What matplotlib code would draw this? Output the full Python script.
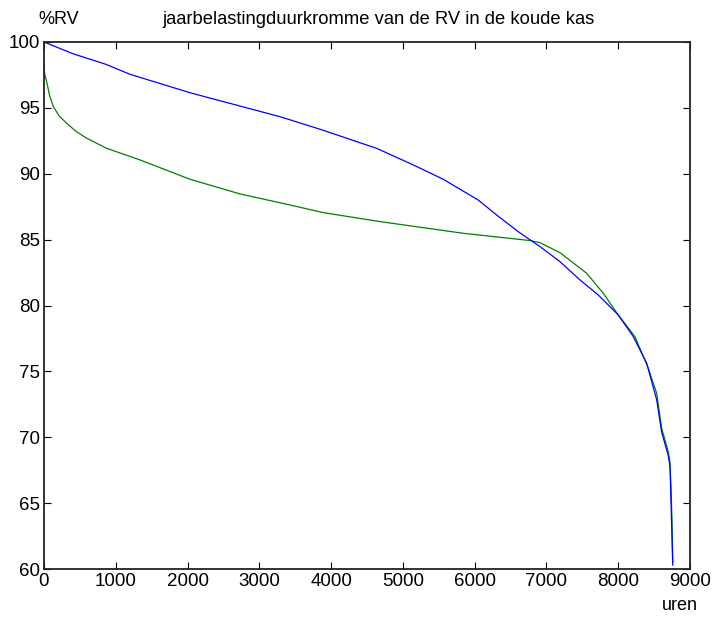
import numpy as np
import matplotlib
matplotlib.use("Agg")
import matplotlib.pyplot as plt

# jaarbelastingduurkromme: uren (gesorteerd) tegen RV in de koude kas
uren_blauw = [0, 408, 850, 1198, 2034, 3288, 3845, 4634, 5145, 5563, 6051,
              6306, 6608, 6910, 7189, 7468, 7722, 8001, 8210, 8397, 8536,
              8605, 8698, 8721, 8731, 8745, 8760]
rv_blauw = [100.0, 99.1, 98.33, 97.55, 96.15, 94.33, 93.38, 91.93, 90.67,
            89.58, 88.0, 86.87, 85.6, 84.47, 83.33, 81.94, 80.8, 79.28,
            77.64, 75.62, 72.84, 70.4, 68.6, 67.8, 66.1, 63.3, 60.3]

uren_groen = [0, 2, 12, 37, 75, 130, 210, 316, 450, 594, 873, 1337, 2034,
              2730, 3427, 3891, 4681, 5842, 6771, 6910, 7189, 7560, 7792,
              8001, 8233, 8419, 8536, 8605, 8698, 8721, 8735, 8750, 8760]
rv_groen = [98.3, 97.9, 97.5, 97.0, 96.0, 95.1, 94.4, 93.83, 93.2, 92.7,
            91.93, 91.05, 89.58, 88.47, 87.63, 87.05, 86.37, 85.48, 84.93,
            84.77, 84.01, 82.45, 80.93, 79.28, 77.64, 75.24, 73.34, 70.7,
            68.9, 68.1, 66.3, 63.6, 60.5]

x_ticks = [0, 1000, 2000, 3000, 4000, 5000, 6000, 7000, 8000, 9000]
y_ticks = [60, 65, 70, 75, 80, 85, 90, 95, 100]

plt.rcParams.update({
    'font.family': ['Liberation Sans', 'DejaVu Sans'],
    'font.size': 13,
    'xtick.direction': 'in',
    'ytick.direction': 'in',
    'xtick.top': True,
    'ytick.right': True,
})

fig = plt.figure(figsize=(7.13, 6.25), dpi=100)
ax = fig.add_axes([0.0617, 0.0896, 0.906, 0.8432])

ax.plot(uren_groen, rv_groen, color='#008000', linewidth=0.9)
ax.plot(uren_blauw, rv_blauw, color='#0000ff', linewidth=0.9)

ax.set_xlim(0, 9000)
ax.set_ylim(60, 100)
ax.set_xticks(x_ticks)
ax.set_yticks(y_ticks)
ax.tick_params(length=5, width=0.8, labelsize=13.5, pad=3)
for sp in ax.spines.values():
    sp.set_linewidth(1.3)
    sp.set_color('#222222')

fig.text(0.083, 0.968, '%RV', fontsize=13, ha='center', va='center')
fig.text(0.531, 0.968, 'jaarbelastingduurkromme van de RV in de koude kas',
         fontsize=13.2, ha='center', va='center')
fig.text(0.953, 0.032, 'uren', fontsize=13, ha='center', va='center')

fig.savefig('out.png', dpi=100)
